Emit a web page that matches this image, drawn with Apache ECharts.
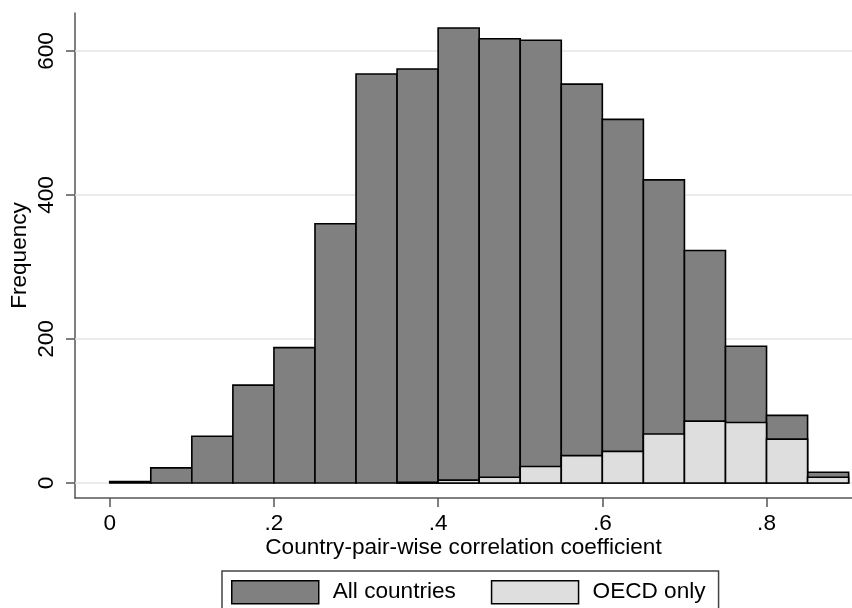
<!DOCTYPE html>
<html>
<head>
<meta charset="utf-8">
<script src="https://cdn.jsdelivr.net/npm/echarts@6/dist/echarts.min.js"></script>
<style>
  html, body { margin: 0; padding: 0; background: #fff; }
  #chart { width: 852px; height: 608px; }
</style>
</head>
<body>
<div id="chart"></div>
<script>
// Histogram bins (left edges), width 0.05
const binStarts = [0, 0.05, 0.10, 0.15, 0.20, 0.25, 0.30, 0.35, 0.40, 0.45, 0.50, 0.55, 0.60, 0.65, 0.70, 0.75, 0.80, 0.85];
const binWidth = 0.05;

// Frequencies per bin
const allCountries = [2, 21, 65, 136, 188, 360, 568, 575, 632, 617, 615, 554, 505, 421, 323, 190, 94, 15];
const oecdOnly     = [0, 0, 0, 0, 0, 0, 0, 1, 4, 8, 23, 38, 44, 68, 86, 84, 61, 8];

// Axis ticks
const xTicks = [0, 0.2, 0.4, 0.6, 0.8];
const yTicks = [0, 200, 400, 600];

const seriesNames = ['All countries', 'OECD only'];
const fills = ['#808080', '#dedede'];

const FONT = "'Liberation Sans', Arial, Helvetica, sans-serif";
const FS = 22.6;

function binData(counts) {
  return binStarts.map((s, i) => [s, s + binWidth, counts[i]]);
}

function histRenderer(fill) {
  return function (params, api) {
    const v = api.value(2);
    if (!v) return null;
    const p0 = api.coord([api.value(0), 0]);
    const p1 = api.coord([api.value(1), v]);
    return {
      type: 'rect',
      shape: { x: p0[0], y: p1[1], width: p1[0] - p0[0], height: p0[1] - p1[1] },
      style: { fill: fill, stroke: '#000', lineWidth: 1.6 }
    };
  };
}

const chart = echarts.init(document.getElementById('chart'), null, { renderer: 'canvas' });

chart.setOption({
  animation: false,
  backgroundColor: '#fff',
  textStyle: { fontFamily: FONT },
  grid: { left: 75, right: 0, top: 13, bottom: 110, containLabel: false, outerBoundsMode: 'none' },
  xAxis: {
    type: 'value',
    min: -0.0423,
    max: 0.9041,
    name: 'Country-pair-wise correlation coefficient',
    nameLocation: 'middle',
    nameGap: 38,
    nameMoveOverlap: false,
    nameTextStyle: { fontSize: FS, color: '#000', fontFamily: FONT },
    axisLine: { show: true, onZero: false, lineStyle: { color: '#555', width: 1.5 } },
    axisTick: { show: true, customValues: xTicks, length: 9, lineStyle: { color: '#555', width: 1.5 } },
    axisLabel: {
      customValues: xTicks,
      margin: 14,
      fontSize: FS,
      color: '#000',
      fontFamily: FONT,
      formatter: v => (v === 0 ? '0' : String(v).replace(/^0/, ''))
    },
    splitLine: { show: false }
  },
  yAxis: {
    type: 'value',
    min: -20.8,
    max: 652.8,
    name: 'Frequency',
    nameLocation: 'middle',
    nameGap: 44,
    nameMoveOverlap: false,
    nameTextStyle: { fontSize: FS, color: '#000', fontFamily: FONT },
    axisLine: { show: true, onZero: false, lineStyle: { color: '#555', width: 1.5 } },
    axisTick: { show: true, customValues: yTicks, length: 9, lineStyle: { color: '#555', width: 1.5 } },
    axisLabel: {
      customValues: yTicks,
      rotate: 90,
      margin: 17,
      fontSize: FS,
      color: '#000',
      fontFamily: FONT
    },
    splitLine: { show: false }
  },
  legend: {
    left: 222,
    top: 571,
    orient: 'horizontal',
    itemWidth: 87,
    itemHeight: 23,
    itemGap: 35,
    padding: [9, 13, 9, 9],
    borderColor: '#444',
    borderWidth: 1.5,
    textStyle: { fontSize: FS, color: '#000', fontFamily: FONT, padding: [0, 0, 0, 9] },
    selectedMode: false,
    data: seriesNames.map((n, i) => ({
      name: n,
      icon: 'rect',
      itemStyle: { color: fills[i], borderColor: '#000', borderWidth: 1.5 }
    }))
  },
  series: [
    {
      // horizontal grid lines, kept behind the bars
      type: 'line',
      data: [],
      silent: true,
      z: 1,
      markLine: {
        silent: true,
        z: 1,
        symbol: 'none',
        label: { show: false },
        lineStyle: { color: '#e6e6e6', width: 1.5, type: 'solid' },
        data: yTicks.map(v => ({ yAxis: v }))
      }
    },
    {
      name: seriesNames[0],
      type: 'custom',
      z: 10,
      itemStyle: { color: fills[0] },
      renderItem: histRenderer(fills[0]),
      encode: { x: [0, 1], y: 2 },
      data: binData(allCountries)
    },
    {
      name: seriesNames[1],
      type: 'custom',
      z: 11,
      itemStyle: { color: fills[1] },
      renderItem: histRenderer(fills[1]),
      encode: { x: [0, 1], y: 2 },
      data: binData(oecdOnly)
    }
  ]
});
</script>
</body>
</html>
